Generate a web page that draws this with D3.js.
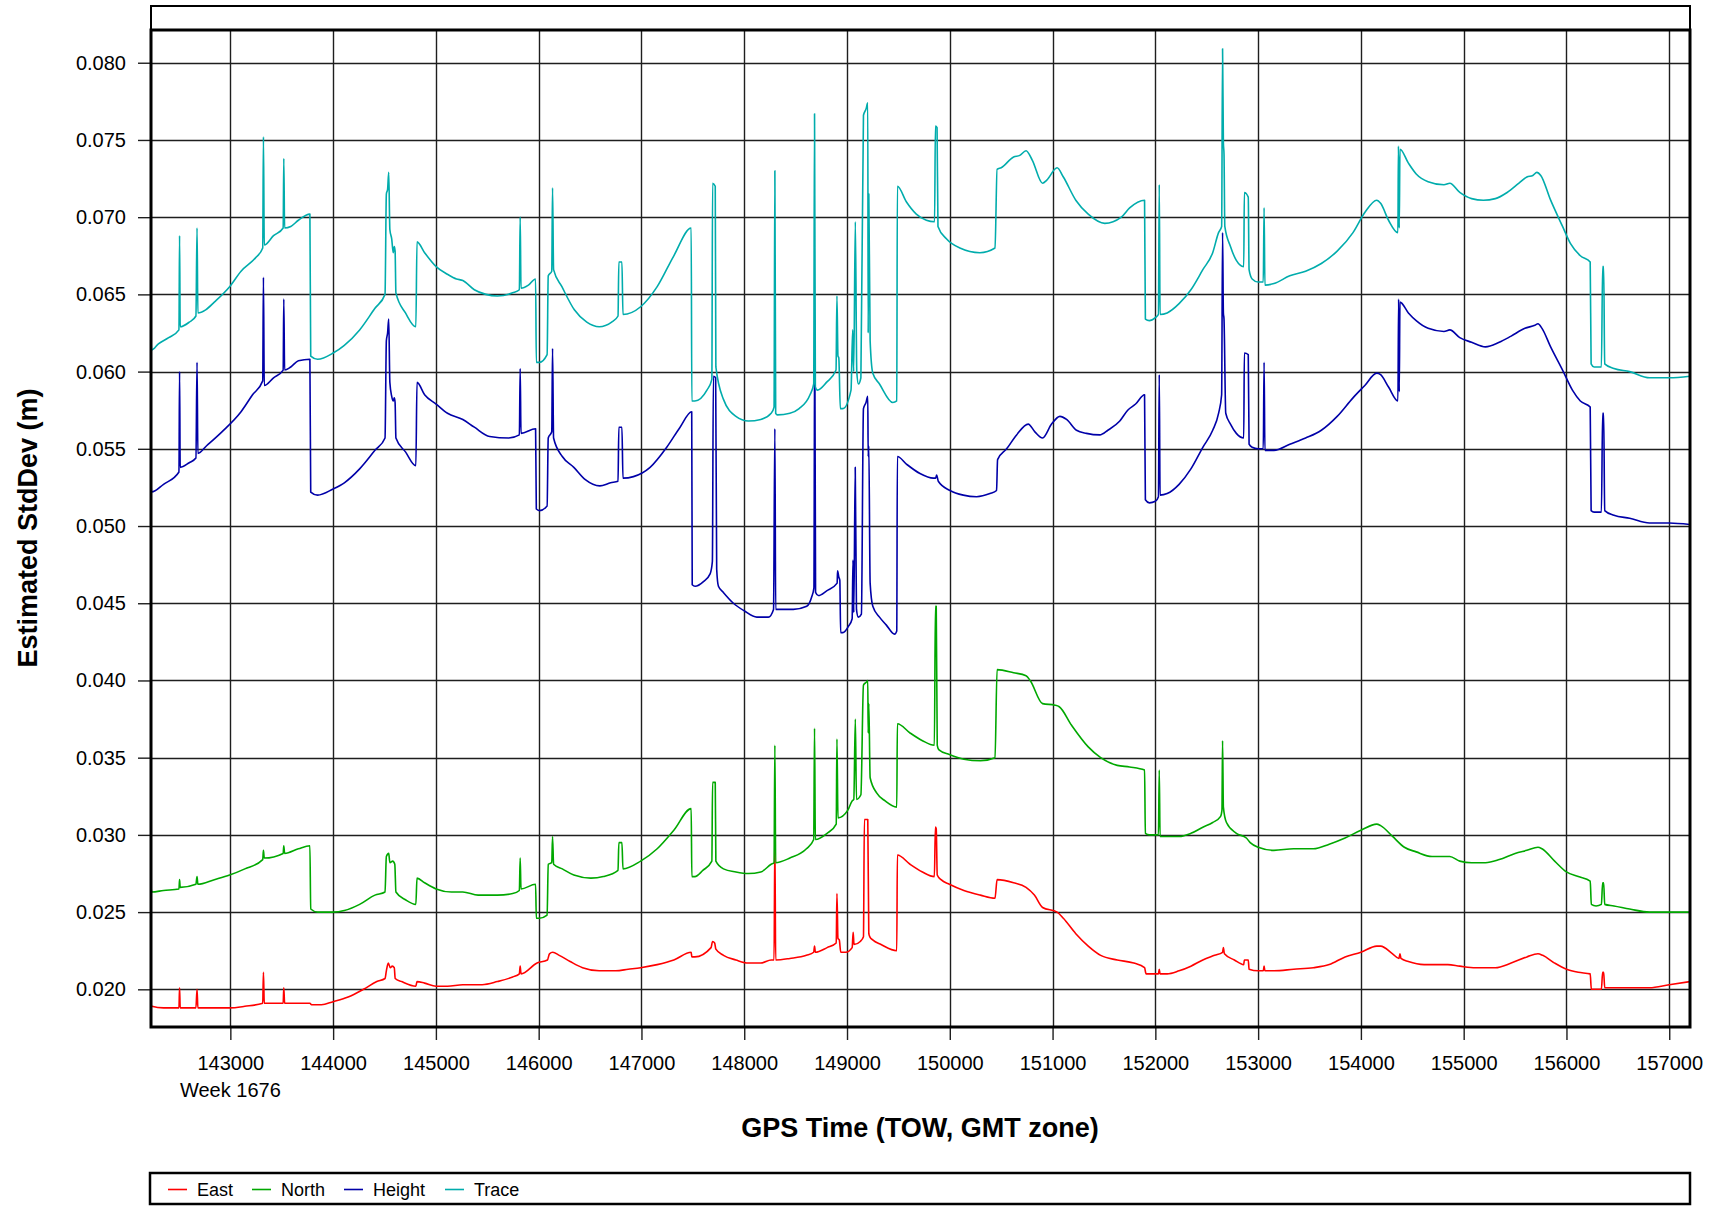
<!DOCTYPE html>
<html>
<head>
<meta charset="utf-8">
<script src="https://cdn.jsdelivr.net/npm/d3@7"></script>
<style>
  html, body { margin: 0; padding: 0; background: #fff; }
  svg { display: block; font-family: "Liberation Sans", Arial, sans-serif; }
</style>
</head>
<body>
<svg id="chart" width="1720" height="1206"></svg>
<script>
// ---------------- DATA ----------------
const seriesNames = ["East", "North", "Height", "Trace"];
const seriesColors = ["#ff0000", "#00a800", "#0000a8", "#00acac"];

const xTicks = [143000,144000,145000,146000,147000,148000,149000,150000,151000,152000,153000,154000,155000,156000,157000];
const yTicks = [0.020,0.025,0.030,0.035,0.040,0.045,0.050,0.055,0.060,0.065,0.070,0.075,0.080];
const weekLabel = "Week 1676";
const xTitle = "GPS Time (TOW, GMT zone)";
const yTitle = "Estimated StdDev (m)";

const trace = [
[142228,0.0621],[142234,0.0614],[142300,0.0618],[142400,0.0622],[142500,0.0627],[142506,0.0688],[142512,0.0629],
[142600,0.0632],[142665,0.0636],[142676,0.0693],[142684,0.0638],[142760,0.0640],[142844,0.0645],[142993,0.0655],
[143104,0.0665],[143250,0.0674],[143315,0.0680],[143322,0.0752],[143330,0.0682],[143420,0.0688],[143514,0.0693],
[143520,0.0738],[143528,0.0693],[143588,0.0694],[143662,0.0698],[143774,0.0702],[143782,0.0610],[143849,0.0608],
[144000,0.0612],[144109,0.0617],[144258,0.0627],[144407,0.0641],[144505,0.0650],[144518,0.0715],[144530,0.0718],
[144541,0.0729],[144552,0.0692],[144570,0.0686],[144585,0.0677],[144595,0.0681],[144603,0.0678],[144611,0.0651],
[144704,0.0638],[144805,0.0629],[144816,0.0684],[144890,0.0677],[145002,0.0668],[145113,0.0663],[145200,0.0660],
[145262,0.0659],[145374,0.0653],[145486,0.0650],[145598,0.0649],[145747,0.0651],[145812,0.0653],[145820,0.0700],
[145828,0.0654],[145900,0.0656],[145970,0.0660],[145977,0.0606],[146007,0.0606],[146082,0.0611],[146093,0.0662],
[146127,0.0665],[146135,0.0719],[146145,0.0666],[146226,0.0655],[146347,0.0640],[146468,0.0632],[146589,0.0629],
[146710,0.0632],[146772,0.0636],[146780,0.0671],[146810,0.0671],[146820,0.0637],[146992,0.0642],[147153,0.0655],
[147315,0.0675],[147484,0.0693],[147490,0.0581],[147520,0.0581],[147637,0.0588],[147685,0.0595],[147692,0.0722],
[147718,0.0720],[147724,0.0603],[147798,0.0582],[147919,0.0571],[148040,0.0568],[148161,0.0569],[148262,0.0573],
[148290,0.0577],[148298,0.0730],[148306,0.0573],[148323,0.0572],[148444,0.0573],[148534,0.0576],[148640,0.0585],
[148676,0.0592],[148684,0.0767],[148692,0.0590],[148713,0.0588],[148800,0.0593],[148893,0.0601],[148902,0.0649],
[148912,0.0610],[148920,0.0609],[148935,0.0576],[148960,0.0576],[149039,0.0588],[149055,0.0627],[149065,0.0600],
[149081,0.0697],[149095,0.0600],[149111,0.0592],[149135,0.0596],[149160,0.0766],[149185,0.0770],[149202,0.0774],
[149206,0.0625],[149212,0.0715],[149225,0.0620],[149251,0.0599],[149316,0.0592],[149446,0.0580],[149484,0.0581],
[149490,0.0720],[149577,0.0710],[149674,0.0702],[149772,0.0698],[149852,0.0697],[149860,0.0759],[149876,0.0758],
[149885,0.0694],[149967,0.0686],[150098,0.0680],[150293,0.0677],[150440,0.0680],[150460,0.0731],[150500,0.0732],
[150621,0.0739],[150681,0.0740],[150742,0.0743],[150802,0.0737],[150903,0.0722],[150944,0.0724],[151044,0.0732],
[151105,0.0726],[151226,0.0711],[151347,0.0702],[151508,0.0696],[151669,0.0700],[151750,0.0706],[151895,0.0711],
[151903,0.0634],[151942,0.0633],[152000,0.0635],[152030,0.0637],[152038,0.0721],[152046,0.0637],[152115,0.0638],
[152231,0.0644],[152346,0.0653],[152462,0.0666],[152558,0.0677],[152615,0.0690],[152645,0.0694],[152654,0.0809],
[152662,0.0748],[152668,0.0741],[152676,0.0694],[152731,0.0681],[152788,0.0672],[152860,0.0668],[152866,0.0716],
[152904,0.0713],[152912,0.0666],[152942,0.0660],[153000,0.0658],[153050,0.0658],[153058,0.0706],[153066,0.0656],
[153154,0.0657],[153308,0.0662],[153462,0.0665],[153615,0.0670],[153769,0.0678],[153923,0.0690],[154038,0.0703],
[154154,0.0711],[154192,0.0709],[154269,0.0698],[154360,0.0690],[154365,0.0746],[154373,0.0693],[154380,0.0744],
[154462,0.0735],[154538,0.0728],[154654,0.0723],[154808,0.0721],[154865,0.0722],[154962,0.0716],[155077,0.0712],
[155192,0.0711],[155308,0.0712],[155423,0.0716],[155538,0.0722],[155615,0.0726],[155673,0.0727],[155712,0.0729],
[155750,0.0727],[155846,0.0711],[155962,0.0694],[156038,0.0683],[156135,0.0675],[156231,0.0671],[156240,0.0605],
[156269,0.0603],[156340,0.0603],[156352,0.0668],[156362,0.0668],[156372,0.0605],[156462,0.0602],[156615,0.0600],
[156808,0.0596],[157000,0.0596],[157200,0.0597]
];

const height = [
[142228,0.0527],[142234,0.0522],[142350,0.0527],[142500,0.0535],[142506,0.0600],[142512,0.0538],[142600,0.0541],
[142665,0.0544],[142676,0.0606],[142684,0.0547],[142769,0.0552],[142918,0.0561],[143104,0.0574],[143216,0.0585],
[143315,0.0594],[143322,0.0661],[143330,0.0591],[143420,0.0596],[143514,0.0601],[143520,0.0647],[143528,0.0601],
[143588,0.0603],[143662,0.0607],[143774,0.0608],[143782,0.0522],[143849,0.0520],[144000,0.0524],[144109,0.0528],
[144258,0.0537],[144407,0.0549],[144505,0.0557],[144518,0.0620],[144530,0.0625],[144541,0.0634],[144552,0.0593],
[144570,0.0584],[144585,0.0581],[144595,0.0583],[144603,0.0580],[144611,0.0557],[144704,0.0548],[144805,0.0539],
[144816,0.0593],[144890,0.0585],[145002,0.0579],[145113,0.0573],[145262,0.0569],[145374,0.0564],[145523,0.0558],
[145709,0.0557],[145812,0.0559],[145820,0.0602],[145828,0.0560],[145970,0.0563],[145977,0.0511],[146007,0.0510],
[146082,0.0513],[146093,0.0557],[146127,0.0561],[146135,0.0615],[146145,0.0557],[146230,0.0545],[146342,0.0538],
[146454,0.0530],[146595,0.0526],[146700,0.0528],[146772,0.0529],[146780,0.0564],[146810,0.0564],[146820,0.0531],
[146922,0.0532],[147084,0.0538],[147246,0.0551],[147376,0.0564],[147489,0.0574],[147494,0.0462],[147522,0.0461],
[147603,0.0464],[147668,0.0469],[147690,0.0477],[147700,0.0597],[147722,0.0596],[147732,0.0472],[147749,0.0461],
[147797,0.0457],[147895,0.0450],[148002,0.0445],[148122,0.0441],[148235,0.0441],[148285,0.0446],[148298,0.0563],
[148306,0.0446],[148332,0.0446],[148478,0.0446],[148608,0.0448],[148656,0.0454],[148678,0.0460],[148686,0.0633],
[148694,0.0457],[148721,0.0455],[148802,0.0458],[148904,0.0463],[148908,0.0471],[148920,0.0467],[148930,0.0465],
[148938,0.0431],[148960,0.0431],[149013,0.0435],[149050,0.0440],[149058,0.0478],[149066,0.0444],[149080,0.0538],
[149092,0.0446],[149110,0.0441],[149140,0.0443],[149160,0.0576],[149185,0.0580],[149202,0.0584],[149206,0.0545],
[149212,0.0552],[149225,0.0463],[149251,0.0448],[149316,0.0441],[149381,0.0436],[149463,0.0430],[149484,0.0432],
[149490,0.0545],[149580,0.0540],[149710,0.0534],[149840,0.0531],[149862,0.0531],[149872,0.0533],[149888,0.0529],
[150002,0.0523],[150131,0.0520],[150261,0.0519],[150391,0.0521],[150455,0.0523],[150465,0.0543],[150553,0.0550],
[150650,0.0559],[150763,0.0566],[150828,0.0561],[150903,0.0557],[150990,0.0566],[151071,0.0571],[151136,0.0569],
[151233,0.0562],[151330,0.0560],[151460,0.0559],[151538,0.0562],[151654,0.0568],[151731,0.0575],[151808,0.0579],
[151895,0.0585],[151903,0.0517],[151942,0.0515],[152000,0.0516],[152030,0.0519],[152038,0.0598],[152046,0.0520],
[152115,0.0521],[152231,0.0527],[152346,0.0537],[152462,0.0551],[152558,0.0562],[152615,0.0573],[152645,0.0585],
[152654,0.0690],[152662,0.0638],[152668,0.0634],[152685,0.0573],[152731,0.0566],[152788,0.0560],[152860,0.0557],
[152866,0.0612],[152904,0.0611],[152912,0.0553],[152942,0.0551],[153000,0.0550],[153050,0.0550],[153058,0.0606],
[153066,0.0549],[153154,0.0549],[153308,0.0553],[153462,0.0557],[153615,0.0562],[153769,0.0571],[153923,0.0583],
[154038,0.0591],[154154,0.0599],[154192,0.0598],[154269,0.0590],[154360,0.0581],[154367,0.0647],[154373,0.0587],
[154380,0.0645],[154462,0.0638],[154538,0.0633],[154654,0.0628],[154808,0.0626],[154865,0.0627],[154962,0.0622],
[155077,0.0619],[155212,0.0616],[155346,0.0619],[155462,0.0623],[155596,0.0628],[155692,0.0630],[155723,0.0631],
[155762,0.0628],[155846,0.0616],[155962,0.0601],[156058,0.0588],[156135,0.0581],[156231,0.0577],[156240,0.0510],
[156269,0.0509],[156340,0.0509],[156352,0.0573],[156362,0.0573],[156372,0.0510],[156462,0.0507],[156615,0.0505],
[156808,0.0502],[157000,0.0502],[157200,0.0501]
];

const north = [
[142228,0.0266],[142236,0.0263],[142350,0.0264],[142500,0.0265],[142506,0.0271],[142512,0.0266],[142665,0.0268],
[142676,0.0273],[142684,0.0268],[142844,0.0271],[142993,0.0274],[143141,0.0278],[143315,0.0284],[143322,0.0290],
[143330,0.0285],[143514,0.0288],[143520,0.0293],[143528,0.0288],[143662,0.0291],[143774,0.0293],[143782,0.0252],
[143849,0.0250],[144000,0.0250],[144109,0.0251],[144258,0.0255],[144407,0.0261],[144505,0.0263],[144518,0.0286],
[144541,0.0288],[144552,0.0282],[144580,0.0283],[144600,0.0281],[144611,0.0263],[144704,0.0258],[144805,0.0255],
[144816,0.0272],[144890,0.0269],[145002,0.0265],[145151,0.0263],[145262,0.0263],[145411,0.0261],[145598,0.0261],
[145747,0.0262],[145812,0.0264],[145820,0.0285],[145828,0.0265],[145970,0.0268],[145977,0.0246],[146007,0.0246],
[146082,0.0248],[146093,0.0281],[146127,0.0282],[146135,0.0299],[146145,0.0281],[146230,0.0278],[146342,0.0274],
[146508,0.0272],[146629,0.0273],[146772,0.0277],[146780,0.0295],[146810,0.0295],[146820,0.0278],[146992,0.0283],
[147153,0.0291],[147315,0.0303],[147484,0.0317],[147490,0.0273],[147520,0.0273],[147597,0.0277],[147685,0.0283],
[147692,0.0334],[147718,0.0334],[147724,0.0283],[147798,0.0278],[147919,0.0276],[148040,0.0275],[148161,0.0276],
[148262,0.0281],[148290,0.0282],[148298,0.0358],[148306,0.0282],[148444,0.0285],[148605,0.0291],[148676,0.0297],
[148684,0.0369],[148692,0.0297],[148806,0.0301],[148895,0.0307],[148902,0.0362],[148912,0.0311],[149008,0.0316],
[149050,0.0322],[149066,0.0323],[149081,0.0375],[149092,0.0323],[149135,0.0326],[149160,0.0397],[149190,0.0399],
[149202,0.0400],[149206,0.0366],[149212,0.0385],[149225,0.0337],[149290,0.0327],[149371,0.0322],[149484,0.0318],
[149490,0.0372],[149613,0.0366],[149734,0.0361],[149850,0.0358],[149860,0.0448],[149868,0.0448],[149878,0.0358],
[149895,0.0355],[149996,0.0352],[150137,0.0349],[150298,0.0348],[150440,0.0350],[150460,0.0407],[150621,0.0405],
[150742,0.0403],[150782,0.0400],[150903,0.0385],[151024,0.0384],[151065,0.0383],[151185,0.0371],[151347,0.0357],
[151468,0.0350],[151629,0.0345],[151750,0.0344],[151895,0.0342],[151903,0.0301],[151942,0.0300],[152030,0.0300],
[152038,0.0342],[152046,0.0299],[152115,0.0299],[152231,0.0299],[152346,0.0301],[152462,0.0305],[152558,0.0308],
[152635,0.0312],[152648,0.0316],[152654,0.0361],[152662,0.0318],[152692,0.0308],[152788,0.0301],[152885,0.0298],
[152923,0.0295],[153000,0.0292],[153154,0.0290],[153346,0.0291],[153538,0.0291],[153692,0.0294],[153846,0.0298],
[154000,0.0303],[154154,0.0307],[154192,0.0306],[154308,0.0299],[154423,0.0292],[154538,0.0289],[154692,0.0286],
[154865,0.0286],[154962,0.0283],[155077,0.0282],[155212,0.0282],[155346,0.0284],[155500,0.0288],[155615,0.0290],
[155723,0.0292],[155762,0.0291],[155885,0.0283],[156000,0.0276],[156115,0.0273],[156231,0.0270],[156242,0.0255],
[156288,0.0254],[156340,0.0255],[156352,0.0269],[156362,0.0269],[156372,0.0255],[156462,0.0254],[156615,0.0252],
[156808,0.0250],[157000,0.0250],[157200,0.0250]
];

const east = [
[142228,0.0190],[142236,0.0189],[142350,0.0188],[142500,0.0188],[142506,0.0201],[142512,0.0188],[142665,0.0188],
[142676,0.0200],[142684,0.0188],[142844,0.0188],[142993,0.0188],[143141,0.0189],[143315,0.0191],[143322,0.0211],
[143330,0.0191],[143514,0.0191],[143520,0.0201],[143528,0.0191],[143662,0.0191],[143774,0.0191],[143790,0.0190],
[143886,0.0190],[144000,0.0192],[144146,0.0195],[144295,0.0200],[144425,0.0205],[144505,0.0207],[144518,0.0212],
[144537,0.0217],[144556,0.0214],[144575,0.0215],[144595,0.0214],[144604,0.0207],[144667,0.0205],[144805,0.0202],
[144816,0.0205],[144890,0.0204],[145002,0.0202],[145113,0.0202],[145262,0.0203],[145449,0.0203],[145598,0.0205],
[145747,0.0208],[145812,0.0210],[145820,0.0215],[145828,0.0210],[145984,0.0217],[146085,0.0219],[146105,0.0223],
[146137,0.0224],[146200,0.0222],[146306,0.0218],[146427,0.0214],[146589,0.0212],[146750,0.0212],[146871,0.0213],
[146992,0.0214],[147153,0.0216],[147315,0.0219],[147484,0.0224],[147490,0.0221],[147520,0.0221],[147677,0.0227],
[147692,0.0231],[147712,0.0230],[147724,0.0226],[147798,0.0222],[147919,0.0219],[148040,0.0217],[148161,0.0217],
[148262,0.0219],[148290,0.0219],[148298,0.0297],[148306,0.0219],[148444,0.0220],[148605,0.0222],[148676,0.0224],
[148684,0.0228],[148692,0.0224],[148806,0.0227],[148895,0.0230],[148902,0.0262],[148912,0.0233],[148925,0.0232],
[148939,0.0224],[148988,0.0224],[149050,0.0227],[149060,0.0237],[149068,0.0229],[149129,0.0231],[149160,0.0234],
[149169,0.0310],[149202,0.0310],[149212,0.0236],[149222,0.0234],[149250,0.0232],[149331,0.0229],[149484,0.0225],
[149490,0.0287],[149613,0.0281],[149734,0.0276],[149850,0.0273],[149860,0.0305],[149868,0.0304],[149878,0.0274],
[149915,0.0271],[149996,0.0268],[150137,0.0264],[150298,0.0261],[150440,0.0259],[150460,0.0271],[150621,0.0269],
[150742,0.0266],[150823,0.0261],[150903,0.0253],[151044,0.0250],[151105,0.0246],[151226,0.0236],[151347,0.0228],
[151468,0.0222],[151629,0.0219],[151790,0.0217],[151895,0.0214],[151910,0.0210],[152030,0.0210],[152038,0.0213],
[152046,0.0210],[152115,0.0210],[152231,0.0212],[152346,0.0215],[152462,0.0219],[152577,0.0222],[152654,0.0224],
[152662,0.0227],[152672,0.0223],[152769,0.0219],[152860,0.0216],[152866,0.0219],[152904,0.0219],[152912,0.0213],
[153000,0.0212],[153050,0.0212],[153058,0.0215],[153066,0.0212],[153154,0.0212],[153346,0.0213],[153538,0.0214],
[153692,0.0216],[153846,0.0221],[154000,0.0224],[154154,0.0228],[154192,0.0228],[154308,0.0223],[154370,0.0220],
[154380,0.0223],[154390,0.0220],[154462,0.0218],[154615,0.0216],[154846,0.0216],[154962,0.0215],[155115,0.0214],
[155308,0.0214],[155462,0.0217],[155615,0.0221],[155723,0.0223],[155769,0.0222],[155885,0.0217],[156000,0.0213],
[156115,0.0211],[156231,0.0210],[156242,0.0200],[156340,0.0200],[156352,0.0211],[156362,0.0211],[156372,0.0201],
[156462,0.0201],[156615,0.0201],[156808,0.0201],[157000,0.0203],[157200,0.0205]
];

const seriesData = [east, north, height, trace];

// ---------------- LAYOUT ----------------
const plot = { left: 151, right: 1690, top: 30, bottom: 1027 };
const svg = d3.select("#chart");

const x = d3.scaleLinear().domain([142228, 157202]).range([plot.left, plot.right]);
const y = d3.scaleLinear().domain([0.01756, 0.08212]).range([plot.bottom, plot.top]);

// header strip
svg.append("rect").attr("x", plot.left).attr("y", 6).attr("width", plot.right - plot.left).attr("height", plot.top - 6)
  .attr("fill", "#fff").attr("stroke", "#000").attr("stroke-width", 2);

// clip
svg.append("defs").append("clipPath").attr("id", "clip")
  .append("rect").attr("x", plot.left).attr("y", plot.top).attr("width", plot.right - plot.left).attr("height", plot.bottom - plot.top);

// grid
const grid = svg.append("g");
grid.selectAll("line.h").data(yTicks).join("line")
  .attr("x1", plot.left).attr("x2", plot.right)
  .attr("y1", d => Math.round(y(d)) + 0.5).attr("y2", d => Math.round(y(d)) + 0.5)
  .attr("stroke", "#1e1e1e").attr("stroke-width", 1.4);
grid.selectAll("line.v").data(xTicks).join("line")
  .attr("y1", plot.top).attr("y2", plot.bottom)
  .attr("x1", d => Math.round(x(d)) + 0.5).attr("x2", d => Math.round(x(d)) + 0.5)
  .attr("stroke", "#1e1e1e").attr("stroke-width", 1.4);

// axes
const yAxis = d3.axisLeft(y).tickValues(yTicks).tickFormat(d3.format(".3f")).tickSize(13).tickPadding(12);
const gy = svg.append("g").attr("transform", `translate(${plot.left},0)`).call(yAxis);
gy.select(".domain").remove();
gy.selectAll(".tick line").attr("stroke", "#1e1e1e").attr("stroke-width", 1.4);
gy.selectAll(".tick text").attr("font-size", 20).attr("fill", "#000")
  .attr("font-family", "'Liberation Sans', Arial, sans-serif");

const xAxis = d3.axisBottom(x).tickValues(xTicks).tickFormat(d3.format("d")).tickSize(13).tickPadding(16);
const gx = svg.append("g").attr("transform", `translate(0,${plot.bottom})`).call(xAxis);
gx.select(".domain").remove();
gx.selectAll(".tick line").attr("stroke", "#1e1e1e").attr("stroke-width", 1.4);
gx.selectAll(".tick text").attr("font-size", 20).attr("fill", "#000")
  .attr("font-family", "'Liberation Sans', Arial, sans-serif");

svg.append("text").attr("x", x(xTicks[0])).attr("y", 1097).attr("text-anchor", "middle")
  .attr("font-size", 20).text(weekLabel);

// series lines
const line = d3.line().x(d => x(d[0])).y(d => y(d[1])).curve(d3.curveMonotoneX);
const lines = svg.append("g").attr("clip-path", "url(#clip)");
seriesData.forEach((data, i) => {
  lines.append("path").datum(data).attr("d", line)
    .attr("fill", "none").attr("stroke", seriesColors[i]).attr("stroke-width", 1.6)
    .attr("stroke-linejoin", "round");
});

// plot frame
svg.append("rect").attr("x", plot.left).attr("y", plot.top).attr("width", plot.right - plot.left).attr("height", plot.bottom - plot.top)
  .attr("fill", "none").attr("stroke", "#000").attr("stroke-width", 3);

// titles
svg.append("text").attr("x", 920).attr("y", 1137).attr("text-anchor", "middle")
  .attr("font-size", 27).attr("font-weight", "bold").text(xTitle);
svg.append("text").attr("transform", "translate(37,528) rotate(-90)").attr("text-anchor", "middle")
  .attr("font-size", 27).attr("font-weight", "bold").text(yTitle);

// legend
const legendBox = { x: 150, y: 1173, w: 1540, h: 31 };
svg.append("rect").attr("x", legendBox.x).attr("y", legendBox.y).attr("width", legendBox.w).attr("height", legendBox.h)
  .attr("fill", "#fff").attr("stroke", "#000").attr("stroke-width", 2.5);
const legendX = [168, 252, 344, 445];
const lg = svg.append("g");
seriesNames.forEach((name, i) => {
  lg.append("line").attr("x1", legendX[i]).attr("x2", legendX[i] + 19)
    .attr("y1", 1189.5).attr("y2", 1189.5).attr("stroke", seriesColors[i]).attr("stroke-width", 1.6);
  lg.append("text").attr("x", legendX[i] + 29).attr("y", 1196).attr("font-size", 18).text(name);
});
</script>
</body>
</html>
